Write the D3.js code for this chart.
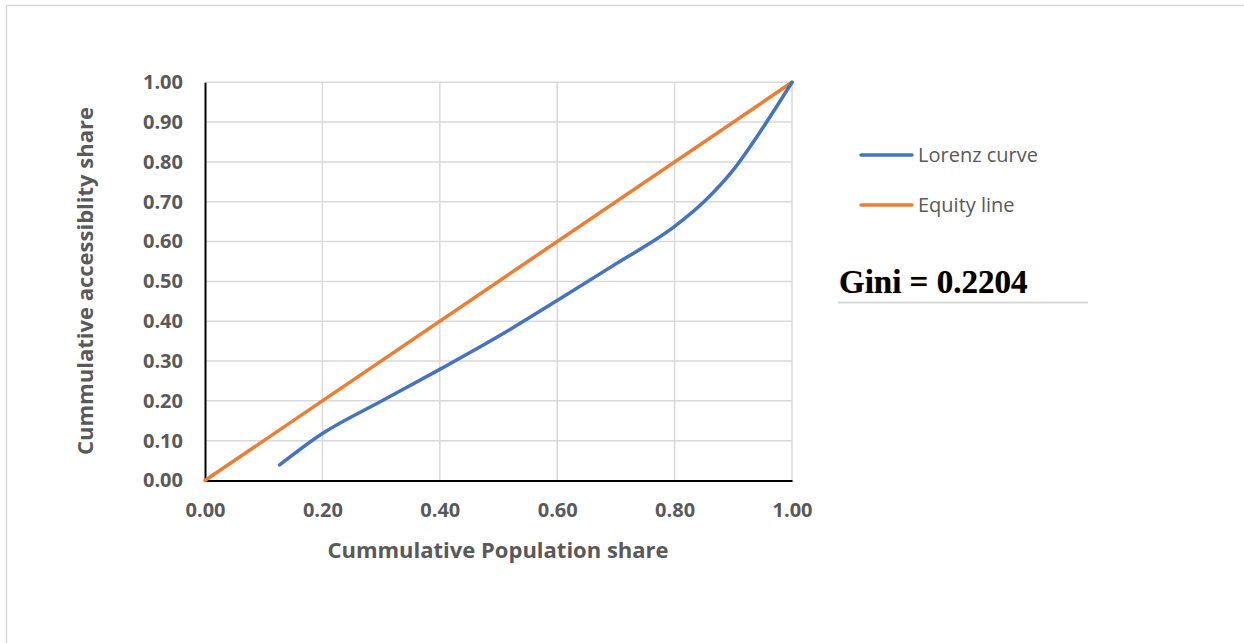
<!DOCTYPE html>
<html><head><meta charset="utf-8">
<script src="https://cdn.jsdelivr.net/npm/d3@7"></script>
<style>body{margin:0;background:#fff}svg{display:block}</style>
</head><body>
<svg id="c" width="1244" height="643"></svg>
<script>
const popShare = [0.127, 0.2, 0.3, 0.4, 0.5, 0.6, 0.7, 0.8, 0.85, 0.9, 0.95, 1.0];
const accessShare = [0.039, 0.118, 0.199, 0.279, 0.362, 0.452, 0.544, 0.638, 0.70, 0.78, 0.885, 1.0];
const equityX = [0, 1];
const equityY = [0, 1];
const xTicks = [0, 0.2, 0.4, 0.6, 0.8, 1.0];
const yTicks = [0, 0.1, 0.2, 0.3, 0.4, 0.5, 0.6, 0.7, 0.8, 0.9, 1.0];
const seriesNames = ["Lorenz curve", "Equity line"];
const seriesColors = ["#4472C4", "#ED7D31"];
const giniText = "Gini = 0.2204";
const xTitle = "Cummulative Population share";
const yTitle = "Cummulative accessiblity share";

const svg = d3.select("#c");
svg.append("path").attr("d","M6.5,643 V5.5 H1244").attr("fill","none").attr("stroke","#d9d9d9").attr("stroke-width",1.5);

const x = d3.scaleLinear().domain([0,1]).range([205,792]);
const y = d3.scaleLinear().domain([0,1]).range([480.5,82.3]);

const tickFont = "'Open Sans', sans-serif";
svg.append("g").selectAll("line").data(yTicks.filter(d=>d>0)).join("line")
  .attr("x1",x(0)).attr("x2",x(1)).attr("y1",d=>y(d)).attr("y2",d=>y(d))
  .attr("stroke","#d9d9d9").attr("stroke-width",1.5);
svg.append("g").selectAll("line").data(xTicks.filter(d=>d>0)).join("line")
  .attr("y1",y(0)).attr("y2",y(1)).attr("x1",d=>x(d)).attr("x2",d=>x(d))
  .attr("stroke","#d9d9d9").attr("stroke-width",1.5);

const xAxis = d3.axisBottom(x).tickValues(xTicks).tickFormat(d3.format(".2f")).tickSize(0).tickPadding(22);
const yAxis = d3.axisLeft(y).tickValues(yTicks).tickFormat(d3.format(".2f")).tickSize(0).tickPadding(22);
const gx = svg.append("g").attr("transform",`translate(0,${y(0)})`).call(xAxis);
const gy = svg.append("g").attr("transform",`translate(${x(0)},0)`).call(yAxis);
[gx,gy].forEach(g=>{
  g.select(".domain").attr("stroke","#000").attr("stroke-width",2);
  g.selectAll("text").attr("fill","#595959").style("font-family",tickFont).style("font-weight","700").style("font-size","20px");
});

const line = d3.line().x(d=>x(d[0])).y(d=>y(d[1])).curve(d3.curveMonotoneX);
svg.append("path").datum(equityX.map((v,i)=>[v,equityY[i]]))
  .attr("d",d3.line().x(d=>x(d[0])).y(d=>y(d[1])))
  .attr("fill","none").attr("stroke",seriesColors[1]).attr("stroke-width",3.5).attr("stroke-linecap","round");
svg.append("path").datum(popShare.map((v,i)=>[v,accessShare[i]]))
  .attr("d",line).attr("fill","none").attr("stroke",seriesColors[0]).attr("stroke-width",3.5).attr("stroke-linecap","round");

svg.append("text").attr("x",498).attr("y",558).attr("text-anchor","middle")
  .attr("fill","#595959").style("font-family",tickFont).style("font-weight","700").style("font-size","22px").text(xTitle);
svg.append("text").attr("transform","translate(93,281) rotate(-90)").attr("text-anchor","middle")
  .attr("fill","#595959").style("font-family",tickFont).style("font-weight","700").style("font-size","22px").text(yTitle);

const leg = svg.append("g");
seriesNames.forEach((n,i)=>{
  const ly = 155 + i*50;
  leg.append("line").attr("x1",861).attr("x2",912).attr("y1",ly).attr("y2",ly)
    .attr("stroke",seriesColors[i]).attr("stroke-width",3.5).attr("stroke-linecap","round");
  leg.append("text").attr("x",918).attr("y",ly).attr("dy","0.35em")
    .attr("fill","#595959").style("font-family",tickFont).style("font-size","20px").text(n);
});

svg.append("text").attr("x",839).attr("y",293).attr("fill","#000")
  .style("font-family","'Liberation Serif', serif").style("font-weight","700").style("font-size","33px")
  .style("text-shadow","0 0 1px #a07030").text(giniText);
svg.append("line").attr("x1",838).attr("x2",1088).attr("y1",302.5).attr("y2",302.5).attr("stroke","#d9d9d9").attr("stroke-width",2);
</script>
</body></html>
